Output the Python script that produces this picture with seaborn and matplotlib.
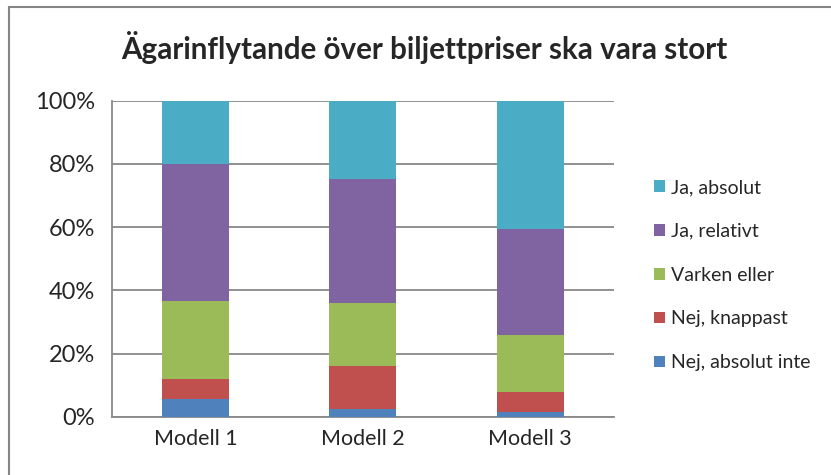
import matplotlib
matplotlib.use("Agg")
import matplotlib.pyplot as plt
from matplotlib.patches import Rectangle
import numpy as np
import pandas as pd
import seaborn as sns

models = ["Modell 1", "Modell 2", "Modell 3"]
# bottom to top
categories = ["Nej, absolut inte", "Nej, knappast", "Varken eller", "Ja, relativt", "Ja, absolut"]
nej_absolut = [5.5, 2.3, 1.5]
nej_knappast = [6.5, 13.6, 6.4]
varken = [24.6, 20.0, 18.0]
ja_relativt = [43.4, 39.4, 33.5]
ja_absolut = [20.0, 24.7, 40.6]
colors = ["#4F81BD", "#C0504D", "#9BBB59", "#8064A2", "#4BACC6"]

sns.set_style("white")
plt.rcParams["font.family"] = ["Lato", "DejaVu Sans"]

df = pd.DataFrame(
    {"Modell": models, categories[0]: nej_absolut, categories[1]: nej_knappast,
     categories[2]: varken, categories[3]: ja_relativt, categories[4]: ja_absolut}
).set_index("Modell")
cum = df[categories].cumsum(axis=1)

fig = plt.figure(figsize=(8.31, 4.75), dpi=100)
ax = fig.add_axes([0.1344, 0.1227, 0.6045, 0.6653])

# draw from top of stack down so lower segments overlay
for cat, col in zip(categories[::-1], colors[::-1]):
    sns.barplot(x=cum.index, y=cum[cat].values, color=col, width=0.4,
                label=cat, ax=ax, saturation=1, zorder=3, linewidth=0)

grid_c = "#888888"
ax.set_ylim(0, 100)
ax.set_xlim(-0.5, 2.5)
ax.set_yticks(np.arange(0, 101, 20))
ax.set_yticklabels([f"{v}%" for v in range(0, 101, 20)], fontsize=17)
ax.yaxis.grid(True, color=grid_c, lw=1.3, zorder=0)
ax.set_axisbelow(True)
ax.set_xlabel("")
ax.set_ylabel("")
ax.tick_params(axis="x", which="major", length=0, labelsize=15.5, pad=9)
ax.set_xticks([-0.5, 0.5, 1.5, 2.5], minor=True)
ax.tick_params(axis="x", which="minor", length=7, width=1.3, color=grid_c)
ax.tick_params(axis="y", length=8, width=1.3, color=grid_c, pad=4)
for s in ["top", "right"]:
    ax.spines[s].set_visible(False)
for s in ["left", "bottom"]:
    ax.spines[s].set_color(grid_c)
    ax.spines[s].set_linewidth(1.3)

handles, labels = ax.get_legend_handles_labels()
ax.legend(handles, labels, loc="center left", bbox_to_anchor=(1.045, 0.448),
          frameon=False, fontsize=14, handlelength=0.55, handleheight=0.55,
          handletextpad=0.3, labelspacing=1.38)

fig.text(0.511, 0.899, "Ägarinflytande över biljettpriser ska vara stort",
         ha="center", va="center", fontsize=21.3, fontweight="bold")

fig.patches.append(Rectangle((9 / 831, -0.1), 1.2, 1.1 - 7 / 475, fill=False,
                             edgecolor="#868686", lw=1.5, transform=fig.transFigure))

fig.savefig("out.png", dpi=100)
